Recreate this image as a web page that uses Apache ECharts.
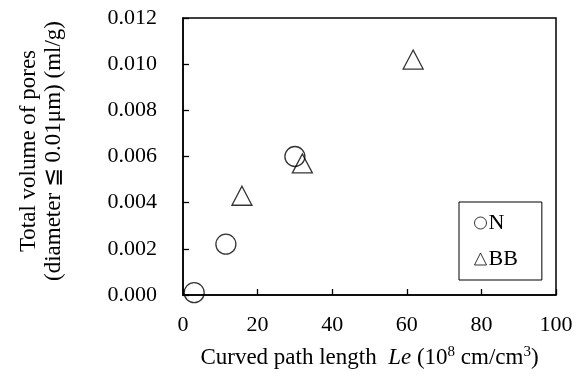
<!DOCTYPE html>
<html>
<head>
<meta charset="utf-8">
<script src="https://cdn.jsdelivr.net/npm/echarts@6/dist/echarts.min.js"></script>
<style>
	html, body { margin: 0; padding: 0; background: #fff; }
	#main { width: 583px; height: 379px; }
</style>
</head>
<body>
<div id="main"></div>
<script>
// Le (10^8 cm/cm3) vs pore volume (ml/g)
var nLe = [3, 11.5, 30];
var nVol = [0.0001, 0.0022, 0.0060];
var bbLe = [15.8, 32, 61.7];
var bbVol = [0.0043, 0.0057, 0.0102];
var xTicks = [0, 20, 40, 60, 80, 100];
var yTicks = [0, 0.002, 0.004, 0.006, 0.008, 0.010, 0.012];

function pairs(xs, ys) {
	var out = [];
	for (var i = 0; i < xs.length; i++) {
		out.push([xs[i], ys[i]]);
	}
	return out;
}

var font = 'Liberation Serif, Times New Roman, serif';
var dom = document.getElementById('main');
var myChart = echarts.init(dom);

var option = {
	animation : false,
	textStyle : { fontFamily : font, color : '#000' },
	grid : {
		left : 183,
		right : 27,
		top : 18,
		bottom : 84,
		show : true,
		borderColor : '#000',
		borderWidth : 1.5,
		backgroundColor : 'transparent'
	},
	legend : {
		orient : 'vertical',
		left : 459,
		top : 202,
		padding : [ 10, 24, 10, 15 ],
		itemGap : 14,
		itemWidth : 12,
		itemHeight : 12,
		borderColor : '#000',
		borderWidth : 1,
		textStyle : { fontFamily : font, fontSize : 22, color : '#000', padding : [ 0, 0, 0, -3 ] },
		itemStyle : { color : 'rgba(0,0,0,0)', borderColor : '#000', borderWidth : 1 },
		data : [ { name : 'N', icon : 'circle' }, { name : 'BB', icon : 'triangle' } ]
	},
	xAxis : {
		type : 'value',
		min : xTicks[0],
		max : xTicks[xTicks.length - 1],
		interval : 20,
		splitLine : { show : false },
		axisLine : { lineStyle : { color : '#000', width : 1.5 } },
		axisTick : { inside : true, length : 6, lineStyle : { color : '#000', width : 1.3 } },
		axisLabel : { fontFamily : font, fontSize : 22, color : '#000', margin : 19 },
		name : 'Curved path length  {i|Le} (10{s|8} cm/cm{s|3})',
		nameLocation : 'middle',
		nameGap : 50,
		nameTextStyle : {
			fontFamily : font,
			fontSize : 23,
			lineHeight : 26,
			color : '#000',
			rich : {
				i : { fontFamily : font, fontSize : 23, lineHeight : 26, fontStyle : 'italic', color : '#000' },
				s : { fontFamily : font, fontSize : 15, lineHeight : 15, color : '#000', verticalAlign : 'top' }
			}
		}
	},
	yAxis : {
		type : 'value',
		min : yTicks[0],
		max : yTicks[yTicks.length - 1],
		interval : 0.002,
		splitLine : { show : false },
		axisLine : { lineStyle : { color : '#000', width : 1.5 } },
		axisTick : { inside : true, length : 6, lineStyle : { color : '#000', width : 1.3 } },
		axisLabel : {
			fontFamily : font,
			fontSize : 22,
			color : '#000',
			margin : 26,
			formatter : function(v) { return v.toFixed(3); }
		}
	},
	graphic : [ {
		type : 'text',
		x : 41,
		y : 151,
		rotation : Math.PI / 2,
		style : {
			text : 'Total volume of pores\n(diameter ≦ 0.01μm) (ml/g)',
			font : '23px ' + font,
			fill : '#000',
			align : 'center',
			verticalAlign : 'middle',
			lineHeight : 25
		}
	} ],
	series : [ {
		name : 'N',
		type : 'scatter',
		symbol : 'circle',
		symbolSize : 20,
		itemStyle : { color : 'rgba(0,0,0,0)', borderColor : '#000', borderWidth : 1.3 },
		data : pairs(nLe, nVol)
	}, {
		name : 'BB',
		type : 'scatter',
		symbol : 'triangle',
		symbolSize : [ 20, 19 ],
		itemStyle : { color : 'rgba(0,0,0,0)', borderColor : '#000', borderWidth : 1.3 },
		data : pairs(bbLe, bbVol)
	} ]
};

myChart.setOption(option);
</script>
</body>
</html>
